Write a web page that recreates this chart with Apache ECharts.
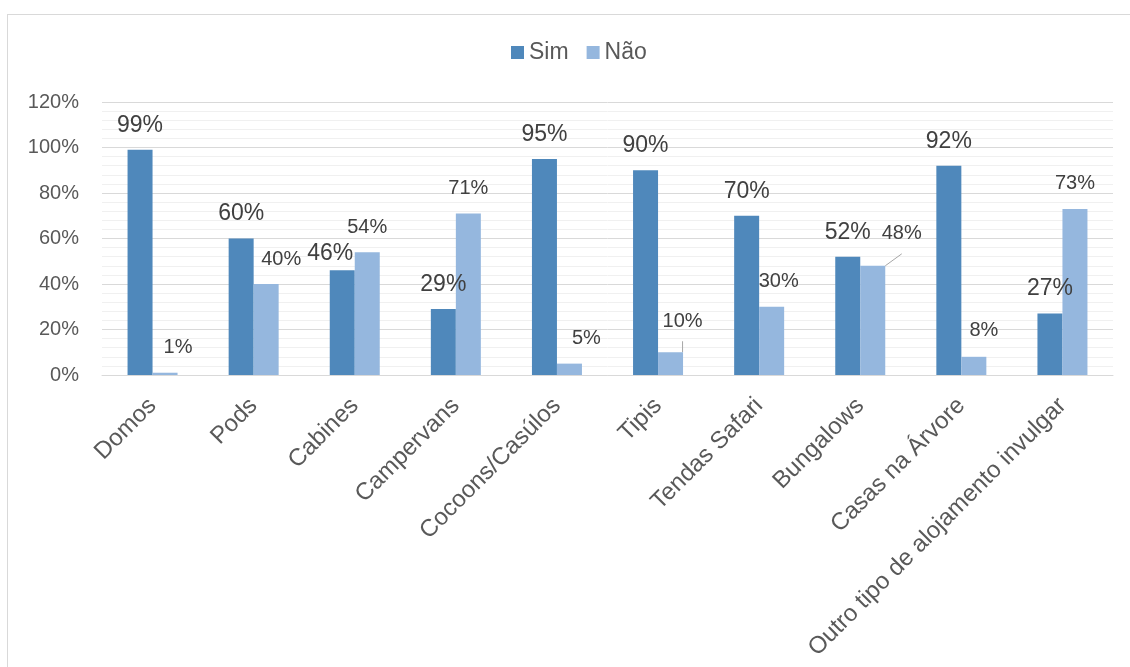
<!DOCTYPE html>
<html>
<head>
<meta charset="utf-8">
<script src="https://cdn.jsdelivr.net/npm/echarts@6/dist/echarts.min.js"></script>
<style>
html,body{margin:0;padding:0;background:#fff;overflow:hidden;}
#chart{position:absolute;left:0;top:0;width:1130px;height:667px;}
#frame{position:absolute;left:7px;top:14px;width:1300px;height:800px;border:1px solid #d9d9d9;pointer-events:none;}
</style>
</head>
<body>
<div id="chart"></div>
<div id="frame"></div>
<script>
const categories = ['Domos','Pods','Cabines','Campervans','Cocoons/Casúlos','Tipis','Tendas Safari','Bungalows','Casas na Árvore','Outro tipo de alojamento invulgar'];
const simValues = [99, 60, 46, 29, 95, 90, 70, 52, 92, 27];
const naoValues = [1, 40, 54, 71, 5, 10, 30, 48, 8, 73];
const yTicks = [0, 20, 40, 60, 80, 100, 120];

// label nudges (layout only)
const simOffsets = {2: [-12, 8]};
const naoOffsets = {0: [13, 0], 1: [15, 0], 4: [17, 0], 5: [12, -6], 6: [7, 0], 7: [29, -7], 8: [10, -1]};
const naoLeader = {5: true, 7: true};

const FONT = '"Liberation Sans", Arial, sans-serif';

function buildData(values, offsets, leaders) {
  return values.map((v, i) => {
    const item = {value: v};
    if (offsets[i]) item.label = {offset: offsets[i]};
    if (leaders && leaders[i]) item.labelLine = {show: true, lineStyle: {color: '#a6a6a6', width: 1}};
    return item;
  });
}

const chart = echarts.init(document.getElementById('chart'), null, {renderer: 'canvas'});
chart.setOption({
  animation: false,
  textStyle: {fontFamily: FONT},
  legend: {
    top: 36,
    left: 506,
    itemWidth: 13,
    itemHeight: 13,
    itemGap: 18,
    icon: 'rect',
    textStyle: {fontSize: 23, color: '#595959', fontFamily: FONT},
    data: ['Sim', 'Não']
  },
  grid: {left: 102, right: 17, top: 102, bottom: 292, containLabel: false},
  xAxis: {
    type: 'category',
    data: categories,
    axisLine: {lineStyle: {color: '#d9d9d9', width: 1}},
    axisTick: {show: false},
    axisLabel: {rotate: 45, interval: 0, fontSize: 24, color: '#595959', margin: 27, fontFamily: FONT}
  },
  yAxis: {
    type: 'value',
    min: yTicks[0],
    max: yTicks[yTicks.length - 1],
    interval: 20,
    axisLine: {show: false},
    axisTick: {show: false},
    axisLabel: {fontSize: 20, color: '#595959', margin: 23, formatter: '{value}%', fontFamily: FONT},
    splitLine: {lineStyle: {color: '#d9d9d9', width: 1}},
    minorTick: {show: false, splitNumber: 5},
    minorSplitLine: {show: true, lineStyle: {color: '#f0f0f0', width: 1}}
  },
  series: [
    {
      name: 'Sim',
      type: 'bar',
      barWidth: 25,
      barGap: '0%',
      itemStyle: {color: '#4f88bb'},
      label: {show: true, position: 'top', distance: 13, formatter: '{c}%', fontSize: 23, color: '#404040', fontFamily: FONT},
      data: buildData(simValues, simOffsets, null)
    },
    {
      name: 'Não',
      type: 'bar',
      barWidth: 25,
      barGap: '0%',
      itemStyle: {color: '#95b7de'},
      label: {show: true, position: 'top', distance: 15, formatter: '{c}%', fontSize: 20, color: '#404040', fontFamily: FONT},
      data: buildData(naoValues, naoOffsets, naoLeader)
    }
  ]
});
</script>
</body>
</html>
